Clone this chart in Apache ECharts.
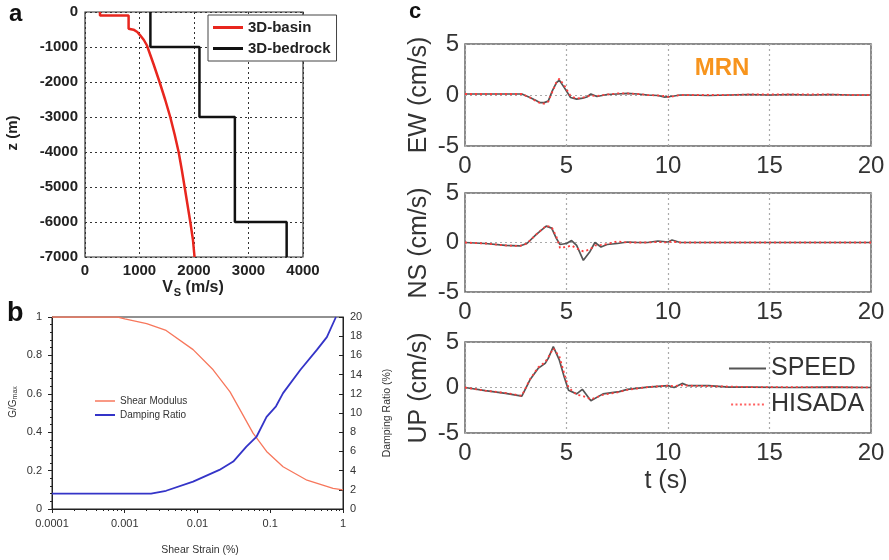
<!DOCTYPE html>
<html>
<head>
<meta charset="utf-8">
<script src="https://cdn.jsdelivr.net/npm/echarts@6/dist/echarts.min.js"></script>
<style>html,body{margin:0;padding:0;background:#fff;}#chart{width:889px;height:560px;}</style>
</head>
<body>
<div id="chart"></div>
<script>
// ---------- Panel a: Vs profiles ----------
const basinV = [275, 275, 800, 800, 890, 960, 1012, 1080, 1135, 1260, 1368, 1470, 1564, 1645, 1718, 1775, 1828, 1880, 1932, 1980, 2010];
const basinZ = [0, -100, -100, -480, -505, -570, -667, -800, -950, -1500, -2000, -2500, -3000, -3500, -4000, -4500, -5000, -5500, -6000, -6500, -7000];
const bedrockV = [1200, 1200, 2100, 2100, 2750, 2750, 3700, 3700];
const bedrockZ = [0, -1000, -1000, -3000, -3000, -6000, -6000, -7000];

// ---------- Panel b: modulus reduction & damping ----------
const strainG = [0.0001, 0.0008, 0.001, 0.002, 0.0037, 0.0087, 0.0164, 0.028, 0.038, 0.058, 0.089, 0.15, 0.32, 0.73, 1];
const shearModulus = [1, 1, 0.99, 0.965, 0.93, 0.83, 0.725, 0.61, 0.52, 0.395, 0.30, 0.22, 0.15, 0.107, 0.1];
const strainD = [0.0001, 0.0023, 0.0037, 0.0087, 0.02, 0.031, 0.047, 0.065, 0.089, 0.12, 0.15, 0.26, 0.44, 0.6, 0.8];
const dampingRatio = [1.6, 1.6, 1.9, 2.85, 4.07, 4.94, 6.5, 7.55, 9.6, 10.7, 12.07, 14.5, 16.6, 17.9, 20];
const strainTicks = ['0.0001', '0.001', '0.01', '0.1', '1'];

// ---------- Panel c: velocity waveforms at MRN ----------
const tEW = [0, 1, 2, 2.8, 3.2, 3.5, 3.7, 3.9, 4.1, 4.3, 4.5, 4.65, 4.9, 5.2, 5.5, 5.8, 6.0, 6.2, 6.5, 7, 7.5, 8, 8.5, 9, 9.5, 9.8, 10.1, 10.3, 10.6, 11, 12, 13, 14, 15, 16, 17, 18, 19, 20];
const ewSpeed = [0.1, 0.1, 0.1, 0.1, -0.25, -0.55, -0.75, -0.75, -0.6, 0.4, 1.2, 1.45, 0.7, -0.25, -0.4, -0.3, -0.2, 0.1, -0.15, 0.05, 0.1, 0.15, 0.1, 0, -0.05, -0.2, -0.15, -0.1, 0, 0, -0.05, 0, 0.05, 0, 0.05, 0, 0.05, 0, 0];
const ewHisada = [0.1, 0.1, 0.1, 0.1, -0.25, -0.6, -0.8, -0.85, -0.65, 0.3, 1.25, 1.6, 0.9, -0.1, -0.35, -0.25, -0.15, -0.05, -0.1, 0.05, 0.15, 0.15, 0.1, 0, -0.05, -0.1, -0.2, -0.1, 0, 0, 0, 0, 0.05, 0.05, 0.05, 0.05, 0.05, 0, 0];

const tNS = [0, 1, 2, 2.7, 3.05, 3.5, 4.0, 4.27, 4.5, 4.68, 5.0, 5.25, 5.5, 5.83, 6.16, 6.4, 6.7, 7.0, 7.5, 8, 8.5, 9, 9.5, 10, 10.2, 10.6, 11, 12, 14, 16, 18, 20];
const nsSpeed = [0, -0.1, -0.3, -0.35, -0.1, 0.8, 1.65, 1.45, 0.42, -0.2, -0.1, 0.2, -0.3, -1.8, -0.9, 0, -0.45, -0.2, -0.1, 0.05, 0, 0, 0.15, 0.05, 0.25, 0, 0, 0, 0, 0, 0, 0];
const nsHisada = [0, -0.1, -0.3, -0.35, -0.1, 0.8, 1.7, 1.55, 0.6, -0.55, -0.45, -0.3, -0.6, -0.9, -0.7, -0.3, -0.25, -0.15, 0.1, 0, 0, 0, 0.05, 0, 0.1, 0, 0, 0, 0, 0, 0, 0];

const tUP = [0, 1, 2, 2.8, 3.2, 3.6, 3.95, 4.1, 4.35, 4.65, 4.88, 5.1, 5.5, 5.78, 6.2, 6.8, 7.6, 8.0, 9.0, 10.0, 10.3, 10.7, 11, 12, 13, 14, 16, 18, 20];
const upSpeed = [0, -0.35, -0.65, -0.95, 0.85, 2.1, 2.65, 3.2, 4.5, 3.0, 1.2, -0.3, -0.7, -0.2, -1.45, -0.7, -0.45, -0.2, 0.05, 0.2, 0, 0.45, 0.2, 0.2, 0.05, 0.05, 0, 0.05, 0];
const upHisada = [0, -0.35, -0.6, -0.9, 0.9, 2.2, 2.8, 3.3, 4.3, 3.4, 1.6, 0, -0.8, -0.9, -1.3, -0.8, -0.5, -0.25, 0.05, 0.2, 0.15, 0.25, 0.2, 0.15, 0.1, 0.05, 0.05, 0.05, 0];

const FONT = 'Liberation Sans, Arial, Helvetica, sans-serif';
const zip = (xs, ys) => xs.map((x, i) => [x, ys[i]]);

// legend icons: plain line segments (solid) and a dotted segment
function solidIcon(w, h) { return 'path://M0 0H' + w + 'V' + h + 'H0Z'; }
function dottedIcon(w, h, on, step) {
  let p = '';
  for (let x = 0; x + on <= w + 0.01; x += step) p += 'M' + x + ' 0H' + (x + on) + 'V' + h + 'H' + x + 'Z';
  return 'path://' + p;
}

const cGrids = [
  {left: 465, top: 44, width: 406, height: 102},
  {left: 465, top: 193, width: 406, height: 99},
  {left: 465, top: 342, width: 406, height: 91}
];

function cX(i) {
  return {
    type: 'value', gridIndex: 2 + i, min: 0, max: 20, interval: 5,
    axisLine: {show: false}, axisTick: {show: false},
    axisLabel: {fontSize: 24, color: '#333', fontFamily: FONT, margin: 8},
    splitLine: {show: true, lineStyle: {color: '#aaa', type: [2, 3], width: 1.2}}
  };
}
function cY(i) {
  return {
    type: 'value', gridIndex: 2 + i, min: -5, max: 5, interval: 5,
    axisLine: {show: false}, axisTick: {show: false},
    axisLabel: {fontSize: 24, color: '#333', fontFamily: FONT, margin: 6},
    splitLine: {show: true, lineStyle: {color: '#aaa', type: [2, 3], width: 1.2}}
  };
}

const chart = echarts.init(document.getElementById('chart'), null, {renderer: 'canvas'});
const option = {
  animation: false,
  backgroundColor: '#fff',
  textStyle: {fontFamily: FONT},
  grid: [
    {left: 85, top: 12, width: 218, height: 245, show: true, borderColor: '#333', borderWidth: 1.2, backgroundColor: 'transparent'},
    {left: 52, top: 317, width: 291, height: 192, show: true, borderColor: '#222', borderWidth: 1, backgroundColor: 'transparent'},
    Object.assign({show: true, borderColor: '#666', borderWidth: 1.5, backgroundColor: 'transparent'}, cGrids[0]),
    Object.assign({show: true, borderColor: '#666', borderWidth: 1.5, backgroundColor: 'transparent'}, cGrids[1]),
    Object.assign({show: true, borderColor: '#666', borderWidth: 1.5, backgroundColor: 'transparent'}, cGrids[2])
  ],
  xAxis: [
    {
      type: 'value', gridIndex: 0, min: 0, max: 4000, interval: 1000,
      axisLine: {show: false}, axisTick: {show: false},
      axisLabel: {fontSize: 15, fontWeight: 'bold', color: '#222', fontFamily: FONT, margin: 6, formatter: v => String(v)},
      splitLine: {show: true, lineStyle: {color: '#333', type: [2, 3], width: 1}}
    },
    {
      type: 'log', gridIndex: 1, min: 0.0001, max: 1, logBase: 10,
      axisLine: {show: true, lineStyle: {color: '#222', width: 1}},
      axisTick: {show: true, length: 4, lineStyle: {color: '#222'}},
      minorTick: {show: true, splitNumber: 9, length: 2, lineStyle: {color: '#222'}},
      axisLabel: {fontSize: 11, color: '#333', fontFamily: FONT, margin: 9,
        formatter: v => strainTicks[Math.round(Math.log10(v)) + 4]},
      splitLine: {show: false}
    },
    cX(0), cX(1), cX(2)
  ],
  yAxis: [
    {
      type: 'value', gridIndex: 0, min: -7000, max: 0, interval: 1000,
      axisLine: {show: false}, axisTick: {show: false},
      axisLabel: {fontSize: 15, fontWeight: 'bold', color: '#222', fontFamily: FONT, margin: 7, formatter: v => String(v)},
      splitLine: {show: true, lineStyle: {color: '#333', type: [2, 3], width: 1}}
    },
    {
      type: 'value', gridIndex: 1, min: 0, max: 1, interval: 0.2, position: 'left',
      axisLine: {show: true, lineStyle: {color: '#222'}},
      axisTick: {show: true, length: 4, lineStyle: {color: '#222'}},
      minorTick: {show: true, splitNumber: 5, length: 2, lineStyle: {color: '#222'}},
      axisLabel: {fontSize: 11, color: '#333', fontFamily: FONT, margin: 10},
      splitLine: {show: false}
    },
    {
      type: 'value', gridIndex: 1, min: 0, max: 20, interval: 2, position: 'right',
      axisLine: {show: true, lineStyle: {color: '#222'}},
      axisTick: {show: true, inside: true, length: 4, lineStyle: {color: '#222'}},
      axisLabel: {fontSize: 11, color: '#333', fontFamily: FONT, margin: 7},
      splitLine: {show: false}
    },
    cY(0), cY(1), cY(2)
  ],
  legend: [
    {
      data: [{name: '3D-basin', icon: solidIcon(30, 3)}, {name: '3D-bedrock', icon: solidIcon(30, 3)}],
      left: 208, top: 15, orient: 'vertical',
      itemWidth: 30, itemHeight: 3, itemGap: 6, padding: [5, 6, 5, 5],
      backgroundColor: '#fff', borderColor: '#444', borderWidth: 1,
      textStyle: {fontSize: 15, fontWeight: 'bold', color: '#222', fontFamily: FONT}
    },
    {
      data: [{name: 'Shear Modulus', icon: solidIcon(20, 1.5)}, {name: 'Damping Ratio', icon: solidIcon(20, 2)}],
      left: 90, top: 391, orient: 'vertical',
      itemWidth: 20, itemHeight: 2, itemGap: 4,
      textStyle: {fontSize: 10, color: '#333', fontFamily: FONT}
    },
    {
      data: [{name: 'SPEED', icon: solidIcon(37, 2)}, {name: 'HISADA', icon: dottedIcon(37, 2, 2, 4.4)}],
      left: 724, top: 351, orient: 'vertical',
      itemWidth: 37, itemHeight: 2, itemGap: 11,
      textStyle: {fontSize: 25, color: '#333', fontFamily: FONT}
    }
  ],
  series: [
    {name: '3D-basin', type: 'line', xAxisIndex: 0, yAxisIndex: 0, symbol: 'none', data: zip(basinV, basinZ),
      lineStyle: {color: '#e8261e', width: 2.5}, itemStyle: {color: '#e8261e'}},
    {name: '3D-bedrock', type: 'line', xAxisIndex: 0, yAxisIndex: 0, symbol: 'none', data: zip(bedrockV, bedrockZ),
      lineStyle: {color: '#111', width: 2.5}, itemStyle: {color: '#111'}},
    {name: 'Shear Modulus', type: 'line', xAxisIndex: 1, yAxisIndex: 1, symbol: 'none', data: zip(strainG, shearModulus),
      lineStyle: {color: '#f7775c', width: 1.3}, itemStyle: {color: '#f7775c'}},
    {name: 'Damping Ratio', type: 'line', xAxisIndex: 1, yAxisIndex: 2, symbol: 'none', data: zip(strainD, dampingRatio),
      lineStyle: {color: '#3434c8', width: 1.8}, itemStyle: {color: '#3434c8'}},
    {name: 'SPEED', type: 'line', xAxisIndex: 2, yAxisIndex: 3, symbol: 'none', data: zip(tEW, ewSpeed),
      lineStyle: {color: '#555', width: 1.7}, itemStyle: {color: '#555'}},
    {name: 'HISADA', type: 'line', xAxisIndex: 2, yAxisIndex: 3, symbol: 'none', data: zip(tEW, ewHisada),
      lineStyle: {color: '#ff3d3d', width: 1.8, type: [2, 3]}, itemStyle: {color: '#ff6060'}},
    {name: 'SPEED', type: 'line', xAxisIndex: 3, yAxisIndex: 4, symbol: 'none', data: zip(tNS, nsSpeed),
      lineStyle: {color: '#555', width: 1.7}, itemStyle: {color: '#555'}},
    {name: 'HISADA', type: 'line', xAxisIndex: 3, yAxisIndex: 4, symbol: 'none', data: zip(tNS, nsHisada),
      lineStyle: {color: '#ff3d3d', width: 1.8, type: [2, 3]}, itemStyle: {color: '#ff6060'}},
    {name: 'SPEED', type: 'line', xAxisIndex: 4, yAxisIndex: 5, symbol: 'none', data: zip(tUP, upSpeed),
      lineStyle: {color: '#555', width: 1.7}, itemStyle: {color: '#555'}},
    {name: 'HISADA', type: 'line', xAxisIndex: 4, yAxisIndex: 5, symbol: 'none', data: zip(tUP, upHisada),
      lineStyle: {color: '#ff3d3d', width: 1.8, type: [2, 3]}, itemStyle: {color: '#ff6060'}}
  ],
  graphic: [
    {type: 'text', left: 9, top: 2, style: {text: 'a', fontSize: 24, fontWeight: 'bold', fill: '#111', fontFamily: FONT}},
    {type: 'text', left: 7, top: 300, style: {text: 'b', fontSize: 27, fontWeight: 'bold', fill: '#111', fontFamily: FONT}},
    {type: 'text', left: 409, top: 1, style: {text: 'c', fontSize: 22, fontWeight: 'bold', fill: '#111', fontFamily: FONT}},
    {type: 'text', x: 13, y: 133, rotation: Math.PI / 2,
      style: {text: 'z (m)', fontSize: 15, fontWeight: 'bold', fill: '#222', fontFamily: FONT, textAlign: 'center', textVerticalAlign: 'middle'}},
    {type: 'text', x: 193, y: 288,
      style: {text: '{m|V}{s|S}{m| (m/s)}', textAlign: 'center', textVerticalAlign: 'middle',
        rich: {m: {fontSize: 16, fontWeight: 'bold', fill: '#222', fontFamily: FONT},
               s: {fontSize: 11, fontWeight: 'bold', fill: '#222', fontFamily: FONT, padding: [10, 0, 0, 1]}}}},
    {type: 'text', x: 13, y: 402, rotation: Math.PI / 2,
      style: {text: '{m|G/G}{s|max}', textAlign: 'center', textVerticalAlign: 'middle',
        rich: {m: {fontSize: 10, fill: '#333', fontFamily: FONT}, s: {fontSize: 7, fill: '#333', fontFamily: FONT, padding: [4, 0, 0, 0]}}}},
    {type: 'text', x: 387, y: 413, rotation: Math.PI / 2,
      style: {text: 'Damping Ratio (%)', fontSize: 10.5, fill: '#333', fontFamily: FONT, textAlign: 'center', textVerticalAlign: 'middle'}},
    {type: 'text', x: 200, y: 550,
      style: {text: 'Shear Strain (%)', fontSize: 10.5, fill: '#333', fontFamily: FONT, textAlign: 'center', textVerticalAlign: 'middle'}},
    {type: 'text', x: 722, y: 68,
      style: {text: 'MRN', fontSize: 24, fontWeight: 'bold', fill: '#f7941d', fontFamily: FONT, textAlign: 'center', textVerticalAlign: 'middle'}},
    {type: 'text', x: 419, y: 95, rotation: Math.PI / 2,
      style: {text: 'EW (cm/s)', fontSize: 25, fill: '#333', fontFamily: FONT, textAlign: 'center', textVerticalAlign: 'middle'}},
    {type: 'text', x: 419, y: 243, rotation: Math.PI / 2,
      style: {text: 'NS (cm/s)', fontSize: 25, fill: '#333', fontFamily: FONT, textAlign: 'center', textVerticalAlign: 'middle'}},
    {type: 'text', x: 419, y: 388, rotation: Math.PI / 2,
      style: {text: 'UP (cm/s)', fontSize: 25, fill: '#333', fontFamily: FONT, textAlign: 'center', textVerticalAlign: 'middle'}},
    {type: 'text', x: 666, y: 481,
      style: {text: 't (s)', fontSize: 25, fill: '#333', fontFamily: FONT, textAlign: 'center', textVerticalAlign: 'middle'}}
  ]
};
chart.setOption(option);
</script>
</body>
</html>
